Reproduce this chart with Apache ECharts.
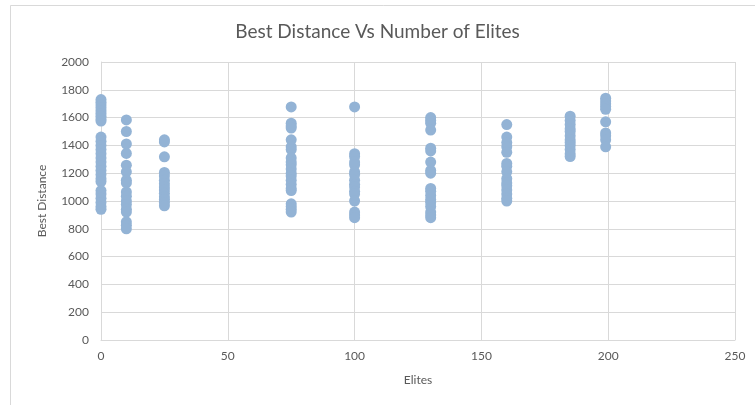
<!DOCTYPE html>
<html>
<head>
<meta charset="utf-8">
<script src="https://cdn.jsdelivr.net/npm/echarts@6/dist/echarts.min.js"></script>
<style>
  html, body { margin: 0; padding: 0; background: #fff; }
  #chart { width: 755px; height: 405px; }
</style>
</head>
<body>
<div id="chart"></div>
<script>
// Best distance found for each elite count (several runs per setting)
const elites0   = [1730, 1710, 1690, 1670, 1650, 1630, 1610, 1590, 1575, 1460, 1430, 1400, 1370, 1340, 1310, 1280, 1250, 1220, 1190, 1160, 1140, 1075, 1050, 1020, 990, 960, 940];
const elites10  = [1583, 1500, 1410, 1342, 1258, 1210, 1150, 1130, 1065, 1035, 1000, 975, 940, 920, 850, 826, 800];
const elites25  = [1440, 1425, 1318, 1205, 1180, 1150, 1125, 1100, 1080, 1055, 1030, 1010, 990, 965];
const elites75  = [1677, 1560, 1540, 1525, 1440, 1390, 1370, 1310, 1280, 1260, 1230, 1200, 1180, 1150, 1120, 1090, 1075, 980, 960, 940, 920];
const elites100 = [1677, 1340, 1320, 1280, 1260, 1210, 1190, 1150, 1120, 1100, 1070, 1050, 1000, 920, 900, 880];
const elites130 = [1600, 1580, 1560, 1510, 1380, 1360, 1280, 1220, 1200, 1090, 1070, 1040, 1010, 990, 960, 920, 900, 880];
const elites160 = [1550, 1460, 1420, 1390, 1350, 1270, 1250, 1210, 1160, 1130, 1110, 1080, 1050, 1020, 1000];
const elites185 = [1610, 1580, 1550, 1520, 1500, 1470, 1440, 1420, 1400, 1370, 1340, 1320];
const elites199 = [1740, 1720, 1700, 1680, 1660, 1570, 1490, 1470, 1440, 1390];

const groups = [
  [0, elites0], [10, elites10], [25, elites25], [75, elites75], [100, elites100],
  [130, elites130], [160, elites160], [185, elites185], [199, elites199]
];
const points = [];
groups.forEach(([x, ys]) => ys.forEach(y => points.push([x, y])));

const textColor = '#595959';
const gridColor = '#d9d9d9';
const font = 'Lato';

const chart = echarts.init(document.getElementById('chart'), null, { renderer: 'canvas' });
chart.setOption({
  animation: false,
  backgroundColor: '#fff',
  title: {
    text: 'Best Distance Vs Number of Elites',
    left: 'center',
    top: 17,
    textStyle: { color: textColor, fontFamily: font, fontSize: 19, fontWeight: 'normal' }
  },
  // chart-area frame (runs past the lower edge of the page)
  graphic: [{
    type: 'rect',
    shape: { x: 10.5, y: 5.5, width: 760, height: 420 },
    style: { fill: 'none', stroke: gridColor, lineWidth: 1 },
    silent: true
  }],
  grid: { left: 101, right: 20, top: 62, bottom: 65 },
  xAxis: {
    type: 'value',
    min: 0, max: 250, interval: 50,
    name: 'Elites',
    nameLocation: 'middle',
    nameGap: 34,
    nameTextStyle: { color: textColor, fontFamily: font, fontSize: 12 },
    axisLine: { show: true, lineStyle: { color: gridColor } },
    axisTick: { show: false },
    axisLabel: { color: textColor, fontFamily: font, fontSize: 12, margin: 10 },
    splitLine: { show: true, lineStyle: { color: gridColor } }
  },
  yAxis: {
    type: 'value',
    min: 0, max: 2000, interval: 200,
    name: 'Best Distance',
    nameLocation: 'middle',
    nameGap: 53,
    nameTextStyle: { color: textColor, fontFamily: font, fontSize: 12 },
    axisLine: { show: true, lineStyle: { color: gridColor } },
    axisTick: { show: false },
    axisLabel: { color: textColor, fontFamily: font, fontSize: 12, margin: 12, formatter: v => String(v) },
    splitLine: { show: true, lineStyle: { color: gridColor } }
  },
  series: [{
    type: 'scatter',
    data: points,
    symbol: 'circle',
    symbolSize: 11,
    itemStyle: { color: '#93b3d5', opacity: 1 }
  }]
});
</script>
</body>
</html>
